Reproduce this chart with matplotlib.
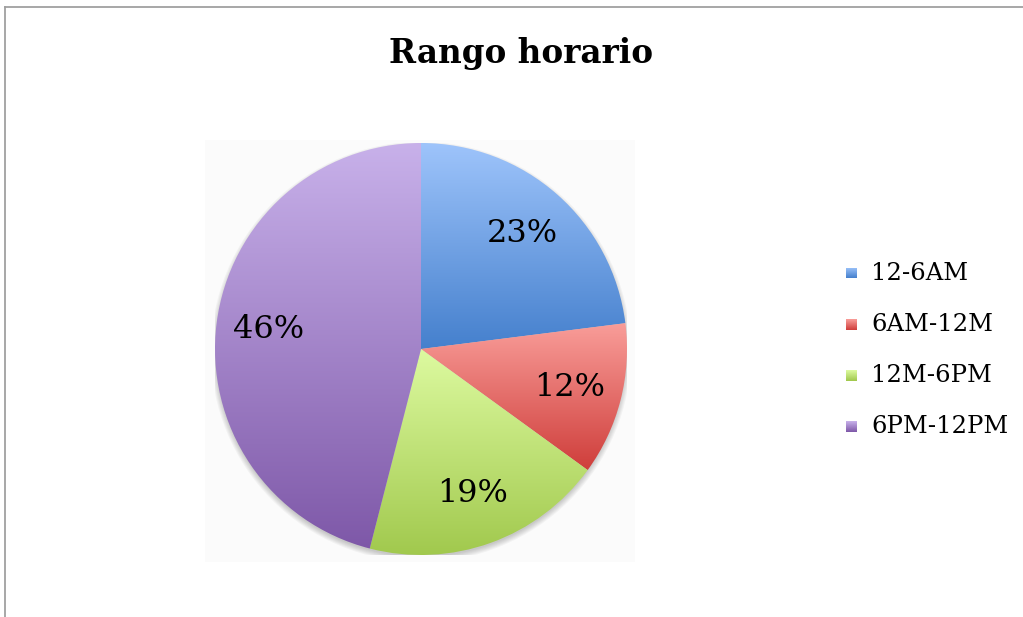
import numpy as np
import matplotlib
matplotlib.use("Agg")
import matplotlib.pyplot as plt
from matplotlib.colors import to_rgb
from matplotlib.lines import Line2D
from matplotlib.patches import Rectangle, Circle

# ---- data ----
title = "Rango horario"
categories = ["12-6AM", "6AM-12M", "12M-6PM", "6PM-12PM"]
values = [23, 12, 19, 46]
grad_top = ["#9EC4FB", "#F99D99", "#DDFAA0", "#C8B1EA"]
grad_bot = ["#4580CD", "#CF3E3B", "#A0C84C", "#7E58A8"]

W, H = 1023, 617
fig = plt.figure(figsize=(W / 100, H / 100), dpi=100)
fig.patch.set_facecolor("white")

def px(x, y):
    return x / W, 1 - y / H

# border (chart area frame, partly off-image)
fig.add_artist(Line2D([4.5 / W, 1.0], [1 - 6.5 / H] * 2, color="#a0a0a0", lw=1.3))
fig.add_artist(Line2D([4.5 / W] * 2, [1 - 6.5 / H, 0.0], color="#a0a0a0", lw=1.3))

# faint shadow backdrop
fig.add_artist(Rectangle(px(205, 562), 430 / W, 422 / H, transform=fig.transFigure,
                         facecolor="#fbfbfb", edgecolor="none", zorder=0))

cx, cy, R = 421, 349, 206
ax = fig.add_axes([(cx - R) / W, (H - cy - R) / H, 2 * R / W, 2 * R / H])
ax.set_facecolor("none")

# soft shadow (offset downward)
for k in range(6):
    ax.add_patch(Circle((0, -0.014), 0.995 + 0.005 * k, facecolor="black",
                        alpha=0.035, edgecolor="none", zorder=0))

wedges, texts, autotexts = ax.pie(values, startangle=90, counterclock=False,
                                  radius=1.0, autopct="%d%%", pctdistance=0.745,
                                  wedgeprops=dict(linewidth=0, edgecolor="none"),
                                  textprops=dict(fontsize=23, family="DejaVu Serif",
                                                 color="black"))
for w, ct, cb in zip(wedges, grad_top, grad_bot):
    verts = w.get_patch_transform().transform(w.get_path().vertices)
    x0, x1 = verts[:, 0].min(), verts[:, 0].max()
    y0, y1 = verts[:, 1].min(), verts[:, 1].max()
    t = np.linspace(0, 1, 256)[:, None]
    top, bot = np.array(to_rgb(ct)), np.array(to_rgb(cb))
    img = bot[None, None, :] * (1 - t[:, :, None]) + top[None, None, :] * t[:, :, None]
    im = ax.imshow(img, extent=[x0, x1, y0, y1], origin="lower", aspect="auto",
                   interpolation="bilinear", zorder=1)
    im.set_clip_path(w)
    w.set_facecolor("none")
for t_ in autotexts:
    t_.set_zorder(5)

ax.set_xlim(-1.0, 1.0)
ax.set_ylim(-1.0, 1.0)
ax.set_aspect("equal")
ax.axis("off")

# title
fig.text(521 / W, 1 - 53 / H, title, ha="center", va="center", fontsize=23.5,
         fontweight="bold", family="DejaVu Serif")

# legend
ly0, ldy = 273, 51.3
for i, (cat, ct, cb) in enumerate(zip(categories, grad_top, grad_bot)):
    yc = ly0 + i * ldy
    sax = fig.add_axes([846 / W, 1 - (yc + 5.5) / H, 11 / W, 11 / H])
    t = np.linspace(0, 1, 32)[:, None]
    top, bot = np.array(to_rgb(ct)), np.array(to_rgb(cb))
    img = bot[None, None, :] * (1 - t[:, :, None]) + top[None, None, :] * t[:, :, None]
    sax.imshow(img, origin="lower", aspect="auto", extent=[0, 1, 0, 1])
    sax.axis("off")
    fig.text(871 / W, 1 - yc / H, cat, ha="left", va="center", fontsize=17.5,
             family="DejaVu Serif")

fig.savefig("out.png", dpi=100, facecolor="white")
